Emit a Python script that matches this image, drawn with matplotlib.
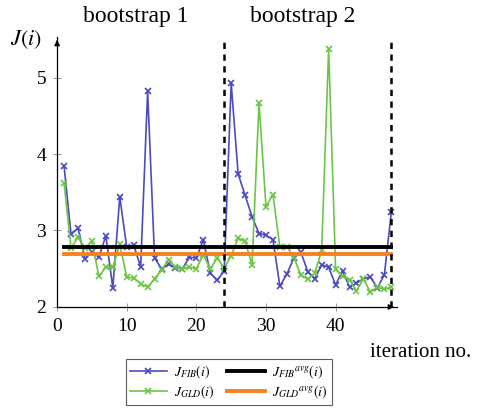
import matplotlib
matplotlib.use("Agg")
import matplotlib.pyplot as plt
import numpy as np

plt.rcParams['font.family'] = ['Liberation Serif', 'DejaVu Serif']
plt.rcParams['mathtext.fontset'] = 'stix'

iterations = list(range(1, 49))
j_fib = [3.84, 2.95, 3.03, 2.63, 2.72, 2.65, 2.93, 2.25, 3.44, 2.78,
         2.81, 2.52, 4.82, 2.64, 2.50, 2.56, 2.51, 2.50, 2.65, 2.64,
         2.88, 2.44, 2.35, 2.47, 4.93, 3.74, 3.46, 3.18, 2.96, 2.94,
         2.88, 2.27, 2.43, 2.64, 2.72, 2.46, 2.37, 2.55, 2.52, 2.29,
         2.47, 2.26, 2.31, 2.37, 2.39, 2.25, 2.42, 3.24]
j_gld = [3.62, 2.77, 2.91, 2.77, 2.86, 2.40, 2.52, 2.52, 2.82, 2.39,
         2.38, 2.30, 2.26, 2.37, 2.48, 2.62, 2.52, 2.50, 2.52, 2.50,
         2.68, 2.50, 2.64, 2.51, 2.67, 2.90, 2.86, 2.55, 4.67, 3.31,
         3.47, 2.78, 2.79, 2.65, 2.42, 2.36, 2.44, 2.74, 5.38, 2.49,
         2.40, 2.35, 2.21, 2.37, 2.19, 2.26, 2.23, 2.26]
j_fib_avg = 2.78
j_gld_avg = 2.69
bootstrap_ends = [24, 48]
bootstrap_labels = ['bootstrap 1', 'bootstrap 2']
xticks = [0, 10, 20, 30, 40]
yticks = [2, 3, 4, 5]

blue = '#4b4bbf'
green = '#6cc544'
orange = '#f5821f'

fig = plt.figure(figsize=(4.84, 4.12), dpi=100)
ax = fig.add_axes([0.118, 0.255, 0.702, 0.655])

ax.plot(iterations, j_fib, color=blue, lw=1.2, marker='x', ms=4.5, mew=1.2,
        label=r'$J_{FIB}(i)$', zorder=3)
ax.plot(iterations, j_gld, color=green, lw=1.2, marker='x', ms=4.5, mew=1.2,
        label=r'$J_{GLD}(i)$', zorder=3)
ax.plot([iterations[0], iterations[-1]], [j_fib_avg] * 2, color='black', lw=2.8,
        label=r'$J_{FIB}{}^{avg}(i)$', zorder=4)
ax.plot([iterations[0], iterations[-1]], [j_gld_avg] * 2, color=orange, lw=2.8,
        label=r'$J_{GLD}{}^{avg}(i)$', zorder=4)

for xb in bootstrap_ends:
    ax.axvline(xb, color='black', lw=1.8, ls=(0, (2.5, 2.2)), zorder=5)

ax.set_xlim(0, 48.8)
ax.set_ylim(2, 5.53)
ax.set_xticks(xticks)
ax.set_yticks(yticks)
ax.tick_params(direction='inout', length=6, width=0.6, color='#888888',
               labelsize=14, pad=5)
for s in ['top', 'right']:
    ax.spines[s].set_visible(False)
for s in ['left', 'bottom']:
    ax.spines[s].set_linewidth(0.9)

# axis arrows
ax.annotate('', xy=(1.0, 0), xycoords='axes fraction', xytext=(0.97, 0),
            arrowprops=dict(arrowstyle='-|>', color='black', lw=0.9,
                            mutation_scale=8))
ax.annotate('', xy=(0, 1.0), xycoords='axes fraction', xytext=(0, 0.97),
            arrowprops=dict(arrowstyle='-|>', color='black', lw=0.9,
                            mutation_scale=8))

fig.text(0.02, 0.903, r'$J(i)$', fontsize=16, ha='left', va='center')
fig.text(0.765, 0.145, 'iteration no.', fontsize=15, ha='left', va='center')
fig.text(0.281, 0.96, bootstrap_labels[0], fontsize=17, ha='center', va='center')
fig.text(0.626, 0.96, bootstrap_labels[1], fontsize=17, ha='center', va='center')

leg = fig.legend(loc='lower left', bbox_to_anchor=(0.245, 0.0), ncol=2,
                 fontsize=10, frameon=True, fancybox=False, edgecolor='#333333',
                 handlelength=2.7, columnspacing=0.9, borderpad=0.3,
                 labelspacing=0.2, handletextpad=0.5)
leg.get_frame().set_linewidth(0.8)

fig.savefig('out.png', dpi=100)
